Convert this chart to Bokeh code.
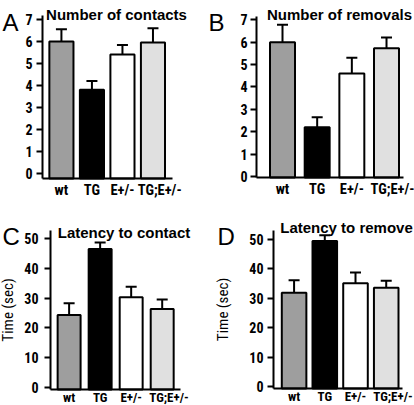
from bokeh.plotting import figure
from bokeh.layouts import gridplot
from bokeh.models import Range1d, FixedTicker, Label, Whisker, TeeHead, ColumnDataSource
from bokeh.embed import file_html
from bokeh.resources import INLINE

groups = ["wt", "TG", "E+/-", "TG;E+/-"]
label_pos = [0, 1, 2, 3.22]
bar_colors = ["#9e9e9e", "#000000", "#ffffff", "#e0e0e0"]

contacts = [6.0, 3.8, 5.4, 5.95]
contacts_err = [0.55, 0.4, 0.43, 0.65]
removals = [6.0, 2.2, 4.6, 5.73]
removals_err = [0.78, 0.45, 0.7, 0.48]
lat_contact = [24.3, 46.5, 30.3, 26.3]
lat_contact_err = [4.0, 2.2, 3.5, 3.2]
lat_remove = [31.9, 49.5, 35.1, 33.6]
lat_remove_err = [4.3, 2.0, 3.7, 2.4]

counts_ticks = [0, 1, 2, 3, 4, 5, 6, 7]
time_ticks = [0, 10, 20, 30, 40, 50]

TITLE_FONT = "'Liberation Sans', Arial, sans-serif"
TICK_FONT = "'Roboto Condensed', 'Liberation Sans Narrow', 'Liberation Sans', sans-serif"


def panel(letter, title, vals, errs, ticks, cfg, ylabel=None):
    w, h = cfg["size"]
    L, R, T, B = cfg["frame"]
    (x0, x1), (y0, y1) = cfg["xr"], cfg["yr"]
    sx = (x1 - x0) / (R - L)
    sy = (y1 - y0) / (B - T)
    xr = Range1d(x0 - L * sx, x0 + (w - L) * sx)
    yr = Range1d(y0 - (h - B) * sy, y1 + T * sy)
    p = figure(width=w, height=h, output_backend="svg", toolbar_location=None,
               x_range=xr, y_range=yr, min_border=0,
               min_border_left=0, min_border_right=0, min_border_top=0, min_border_bottom=0)
    p.outline_line_color = None
    p.xgrid.visible = False
    p.ygrid.visible = False
    p.background_fill_color = "white"
    p.border_fill_color = "white"

    xs = list(range(len(groups)))
    src = ColumnDataSource(dict(x=xs, top=vals, color=bar_colors,
                                upper=[v + e for v, e in zip(vals, errs)],
                                lower=[v - e for v, e in zip(vals, errs)]))
    p.vbar(x="x", top="top", bottom=y0, width=cfg["bw"], fill_color="color",
           line_color="black", line_width=2, source=src)
    wh = Whisker(base="x", upper="upper", lower="lower", source=src,
                 line_color="black", line_width=2,
                 upper_head=TeeHead(size=11, line_width=2, line_color="black"),
                 lower_head=TeeHead(size=11, line_width=2, line_color="black"))
    p.add_layout(wh)

    xa = p.xaxis[0]
    xa.fixed_location = y0
    xa.bounds = (x0, x1)
    xa.ticker = FixedTicker(ticks=label_pos)
    xa.major_label_overrides = {pos: g for pos, g in zip(label_pos, groups)}
    xa.major_tick_line_color = None
    xa.major_tick_out = 0
    xa.major_tick_in = 0
    xa.minor_tick_line_color = None
    xa.axis_line_width = 2
    xa.major_label_text_font = TICK_FONT
    xa.major_label_text_font_style = "bold"
    xa.major_label_text_font_size = cfg["xfs"]
    xa.major_label_text_color = "black"
    xa.major_label_standoff = cfg["xstand"]

    ya = p.yaxis[0]
    ya.fixed_location = x0
    ya.bounds = (y0, y1)
    ya.ticker = FixedTicker(ticks=ticks)
    ya.axis_line_width = 2
    ya.major_tick_line_width = 2
    ya.major_tick_out = 6
    ya.major_tick_in = 0
    ya.minor_tick_line_color = None
    ya.major_label_text_font = TICK_FONT
    ya.major_label_text_font_style = "bold"
    ya.major_label_text_font_size = "14px"
    ya.major_label_text_color = "black"
    ya.major_label_standoff = cfg["ystand"]
    if ylabel:
        ya.axis_label = ylabel
        ya.axis_label_text_font = TICK_FONT
        ya.axis_label_text_font_style = "normal"
        ya.axis_label_text_font_size = "15px"
        ya.axis_label_text_color = "black"
        ya.axis_label_standoff = cfg["lstand"]

    tx, ty = cfg["title_pos"]
    p.add_layout(Label(x=tx, y=ty, x_units="canvas", y_units="canvas",
                       text=title, text_font=TITLE_FONT, text_font_style="bold",
                       text_font_size="15px", text_align="center",
                       text_baseline="alphabetic", text_color="black"))
    lx, ly = cfg["letter_pos"]
    p.add_layout(Label(x=lx, y=ly, x_units="canvas", y_units="canvas",
                       text=letter, text_font=TITLE_FONT, text_font_style="normal",
                       text_font_size="24px", text_align="left",
                       text_baseline="alphabetic", text_color="black"))
    return p


cfgA = dict(size=(207, 202), frame=(42, 172, 15, 178), xr=(-0.62, 3.64), yr=(-0.25, 7.18),
            bw=0.79, xstand=3, xfs="14.5px", ystand=4, title_pos=(116, 13.5), letter_pos=(2, 22))
cfgB = dict(size=(207, 202), frame=(49, 196, 16, 177), xr=(-0.75, 3.49), yr=(-0.05, 7.15),
            bw=0.72, xstand=3, xfs="14.5px", ystand=3, title_pos=(132, 13.5), letter_pos=(1, 22))
cfgC = dict(size=(207, 203), frame=(50, 180, 28, 187), xr=(-0.6, 3.59), yr=(-0.7, 52.7),
            bw=0.74, xstand=0, xfs="13px", ystand=6, lstand=4, title_pos=(123.5, 30), letter_pos=(2, 34))
cfgD = dict(size=(207, 203), frame=(66, 195, 28, 186), xr=(-0.67, 3.53), yr=(-0.7, 53.1),
            bw=0.8, xstand=0, xfs="13px", ystand=4, lstand=14, title_pos=(139, 24.5), letter_pos=(10, 34))

pA = panel("A", "Number of contacts", contacts, contacts_err, counts_ticks, cfgA)
pB = panel("B", "Number of removals", removals, removals_err, counts_ticks, cfgB)
pC = panel("C", "Latency to contact", lat_contact, lat_contact_err, time_ticks, cfgC, ylabel="Time (sec)")
pD = panel("D", "Latency to remove", lat_remove, lat_remove_err, time_ticks, cfgD, ylabel="Time (sec)")

grid = gridplot([[pA, pB], [pC, pD]], toolbar_location=None)

open("out.html", "w").write(file_html(grid, INLINE))
